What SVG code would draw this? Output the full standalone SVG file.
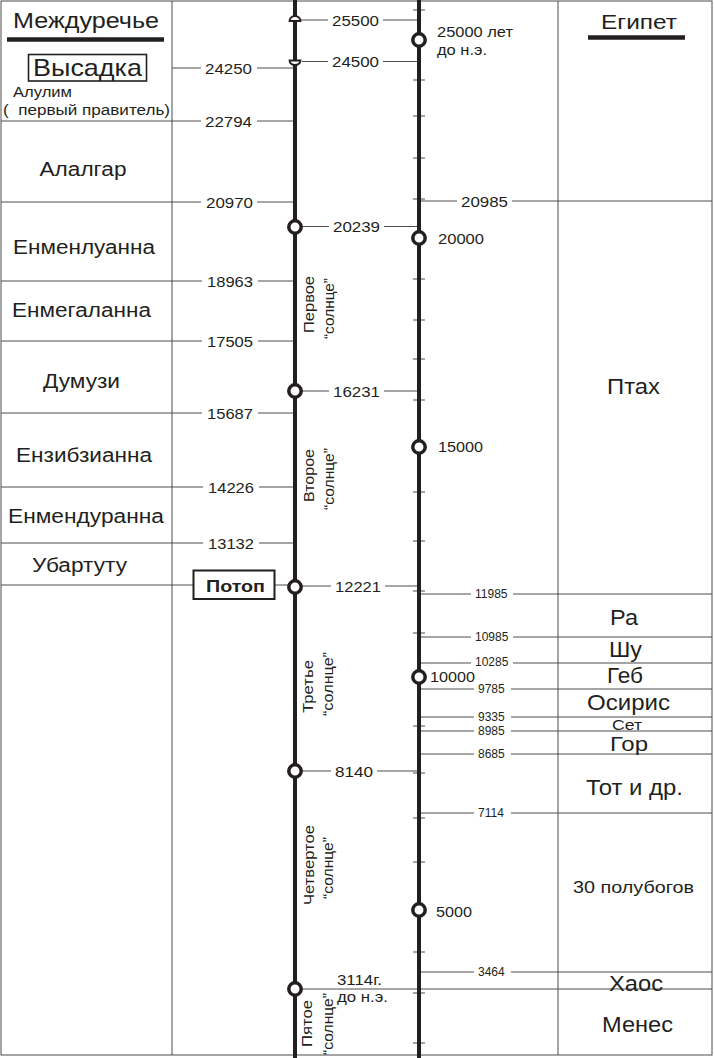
<svg xmlns="http://www.w3.org/2000/svg" width="714" height="1058" viewBox="0 0 714 1058">
<style>
.g{stroke:#4d4d4d;stroke-width:1;fill:none}
.tk{stroke:#4d4d4d;stroke-width:1.2;fill:none}
.ax{stroke:#231f20;stroke-width:4;fill:none}
.c{fill:#fff;stroke:#231f20;stroke-width:3.5}
.hc{fill:#fff;stroke:#231f20;stroke-width:1.8}
text{font-family:"Liberation Sans",Arial,sans-serif;fill:#231f20}
.n{font-size:15px}
.s{font-size:12px}
.big{font-size:20px}
.eg{font-size:22px}
.rot{font-size:15px;text-anchor:middle}
.b{font-size:16px;font-weight:bold}
</style>
<rect x="0" y="0" width="714" height="1058" fill="#fff"/>
<g id="frame">
<rect class="g" x="1" y="1" width="711" height="1054"/>
<line class="g" x1="172" y1="1" x2="172" y2="1055"/>
<line class="g" x1="558" y1="1" x2="558" y2="1055"/>
</g>
<g id="connectors">
<path class="g" d="M172 68H201M257 68H295"/>
<path class="g" d="M1 121H201M257 121H295"/>
<path class="g" d="M1 202H201M257 202H295"/>
<path class="g" d="M1 281H202M258 281H295"/>
<path class="g" d="M1 341H202M258 341H295"/>
<path class="g" d="M1 413H202M258 413H295"/>
<path class="g" d="M1 487H203M259 487H295"/>
<path class="g" d="M1 543H203M259 543H295"/>
<path class="g" d="M1 585H193M275 585H291"/>
<path class="g" d="M301 20H328M383 20H419"/>
<path class="g" d="M302 61.5H328M383 61.5H419"/>
<path class="g" d="M301 226.5H329M384 226.5H419"/>
<path class="g" d="M301 391H329M384 391H419"/>
<path class="g" d="M301 586H331M385 586H419"/>
<path class="g" d="M301 771H331M377 771H419"/>
<path class="g" d="M419 201H457M512 201H712"/>
<path class="g" d="M419 594H471M513 594H712"/>
<path class="g" d="M419 637H471M513 637H712"/>
<path class="g" d="M419 663H471M513 663H712"/>
<path class="g" d="M419 689H474M511 689H712"/>
<path class="g" d="M419 717H474M511 717H712"/>
<path class="g" d="M419 731H474M511 731H712"/>
<path class="g" d="M419 754H474M511 754H712"/>
<path class="g" d="M419 813H474M511 813H712"/>
<path class="g" d="M419 972H474M511 972H712"/>
<path class="g" d="M302 989H712"/>
<path class="tk" d="M413 10H425M413 80H425M413 116H425M413 158H425M413 199H425M413 279H425M413 320H425M413 359H425M413 400H425M413 492H425M413 541H425M413 591H425M413 633H425M413 726H425M413 773H425M413 818H425M413 862H425M413 952H425M413 993H425M413 1043H425"/>
</g>
<g id="axes">
<line class="ax" x1="295" y1="0" x2="295" y2="1058"/>
<line class="ax" x1="419" y1="0" x2="419" y2="1058"/>
</g>
<g id="markers-left-axis">
<path class="hc" d="M289.5 21A5.5 5 0 0 1 300.5 21Z"/>
<path class="hc" d="M289.5 60.5A5.5 4.5 0 0 0 300.5 60.5Z"/>
<circle class="c" cx="295" cy="227" r="6.2"/>
<circle class="c" cx="295" cy="391" r="6.2"/>
<circle class="c" cx="295" cy="587" r="6.2"/>
<circle class="c" cx="295" cy="771" r="6.2"/>
<circle class="c" cx="295" cy="989" r="6.2"/>
</g>
<g id="markers-right-axis">
<circle class="c" cx="419" cy="40" r="6.2"/>
<circle class="c" cx="419" cy="238" r="6.2"/>
<circle class="c" cx="419" cy="447" r="6.2"/>
<circle class="c" cx="419" cy="677" r="6.2"/>
<circle class="c" cx="419" cy="910" r="6.2"/>
</g>
<g id="mesopotamia">
<text x="13" y="28" font-size="22" textLength="146" lengthAdjust="spacingAndGlyphs">Междуречье</text>
<line x1="7" y1="39.5" x2="164" y2="39.5" stroke="#231f20" stroke-width="4.5"/>
<g id="vysadka">
<rect x="28.5" y="54.5" width="118" height="26.5" fill="none" stroke="#231f20" stroke-width="1.6"/>
<text x="33" y="76" font-size="24" textLength="109" lengthAdjust="spacingAndGlyphs">Высадка</text>
</g>
<text x="13" y="97" font-size="14" textLength="59" lengthAdjust="spacingAndGlyphs">Алулим</text>
<text x="3" y="115" font-size="14" textLength="167" lengthAdjust="spacingAndGlyphs">(&#160; первый правитель)</text>
<text class="big" x="39.5" y="176" textLength="87" lengthAdjust="spacingAndGlyphs">Алалгар</text>
<text class="big" x="13" y="254" textLength="142" lengthAdjust="spacingAndGlyphs">Енменлуанна</text>
<text class="big" x="12" y="317" textLength="139" lengthAdjust="spacingAndGlyphs">Енмегаланна</text>
<text class="big" x="43" y="388" textLength="77" lengthAdjust="spacingAndGlyphs">Думузи</text>
<text class="big" x="16" y="462" textLength="136" lengthAdjust="spacingAndGlyphs">Ензибзианна</text>
<text class="big" x="8" y="523" textLength="156" lengthAdjust="spacingAndGlyphs">Енмендуранна</text>
<text class="big" x="32" y="572" textLength="95" lengthAdjust="spacingAndGlyphs">Убартуту</text>
<g id="potop">
<rect x="193.5" y="570.5" width="81" height="28.5" fill="#fff" stroke="#231f20" stroke-width="2"/>
<text class="b" x="206" y="592" textLength="59" lengthAdjust="spacingAndGlyphs">Потоп</text>
</g>
</g>
<g id="left-dates">
<text class="n" x="205" y="73.5" textLength="47" lengthAdjust="spacingAndGlyphs">24250</text>
<text class="n" x="205" y="126.5" textLength="47" lengthAdjust="spacingAndGlyphs">22794</text>
<text class="n" x="206" y="207.5" textLength="47" lengthAdjust="spacingAndGlyphs">20970</text>
<text class="n" x="207" y="286.5" textLength="46" lengthAdjust="spacingAndGlyphs">18963</text>
<text class="n" x="207" y="346.5" textLength="46" lengthAdjust="spacingAndGlyphs">17505</text>
<text class="n" x="207" y="418.5" textLength="46" lengthAdjust="spacingAndGlyphs">15687</text>
<text class="n" x="208" y="492.5" textLength="46" lengthAdjust="spacingAndGlyphs">14226</text>
<text class="n" x="208" y="548.5" textLength="46" lengthAdjust="spacingAndGlyphs">13132</text>
</g>
<g id="mid-dates">
<text class="n" x="332" y="25.5" textLength="47" lengthAdjust="spacingAndGlyphs">25500</text>
<text class="n" x="332" y="67" textLength="47" lengthAdjust="spacingAndGlyphs">24500</text>
<text class="n" x="333" y="232" textLength="47" lengthAdjust="spacingAndGlyphs">20239</text>
<text class="n" x="333" y="396.5" textLength="47" lengthAdjust="spacingAndGlyphs">16231</text>
<text class="n" x="335" y="591.5" textLength="46" lengthAdjust="spacingAndGlyphs">12221</text>
<text class="n" x="335" y="776.5" textLength="38" lengthAdjust="spacingAndGlyphs">8140</text>
<text class="n" x="337" y="985" textLength="45" lengthAdjust="spacingAndGlyphs">3114г.</text>
<text class="n" x="337" y="1002" textLength="51" lengthAdjust="spacingAndGlyphs">до н.э.</text>
</g>
<g id="suns">
<text class="rot" transform="translate(314 304.5) rotate(-90)" textLength="57" lengthAdjust="spacingAndGlyphs">Первое</text>
<text class="rot" transform="translate(334 308.5) rotate(-90)" textLength="61" lengthAdjust="spacingAndGlyphs">“солнце”</text>
<text class="rot" transform="translate(314 475.5) rotate(-90)" textLength="53" lengthAdjust="spacingAndGlyphs">Второе</text>
<text class="rot" transform="translate(334 479) rotate(-90)" textLength="62" lengthAdjust="spacingAndGlyphs">“солнце”</text>
<text class="rot" transform="translate(313 686.5) rotate(-90)" textLength="53" lengthAdjust="spacingAndGlyphs">Третье</text>
<text class="rot" transform="translate(333 684) rotate(-90)" textLength="64" lengthAdjust="spacingAndGlyphs">“солнце”</text>
<text class="rot" transform="translate(314 865) rotate(-90)" textLength="80" lengthAdjust="spacingAndGlyphs">Четвертое</text>
<text class="rot" transform="translate(333 868) rotate(-90)" textLength="62" lengthAdjust="spacingAndGlyphs">“солнце”</text>
<text class="rot" transform="translate(312 1023.5) rotate(-90)" textLength="47" lengthAdjust="spacingAndGlyphs">Пятое</text>
<text class="rot" transform="translate(333 1024) rotate(-90)" textLength="62" lengthAdjust="spacingAndGlyphs">“солнце”</text>
</g>
<g id="scale-labels">
<text class="n" x="437" y="37" textLength="76" lengthAdjust="spacingAndGlyphs">25000 лет</text>
<text class="n" x="437" y="55" textLength="50" lengthAdjust="spacingAndGlyphs">до н.э.</text>
<text class="n" x="438" y="243.5" textLength="46" lengthAdjust="spacingAndGlyphs">20000</text>
<text class="n" x="438" y="452" textLength="45" lengthAdjust="spacingAndGlyphs">15000</text>
<text class="n" x="430" y="682" textLength="45" lengthAdjust="spacingAndGlyphs">10000</text>
<text class="n" x="436" y="917" textLength="36" lengthAdjust="spacingAndGlyphs">5000</text>
</g>
<g id="right-dates">
<text class="n" x="461" y="206.5" textLength="47" lengthAdjust="spacingAndGlyphs">20985</text>
<text class="s" x="475" y="598">11985</text>
<text class="s" x="475" y="641">10985</text>
<text class="s" x="475" y="666">10285</text>
<text class="s" x="478" y="693">9785</text>
<text class="s" x="478" y="721">9335</text>
<text class="s" x="478" y="735">8985</text>
<text class="s" x="478" y="758">8685</text>
<text class="s" x="478" y="817">7114</text>
<text class="s" x="478" y="976">3464</text>
</g>
<g id="egypt">
<text x="601" y="29" font-size="20" textLength="76" lengthAdjust="spacingAndGlyphs">Египет</text>
<line x1="588" y1="37.5" x2="685" y2="37.5" stroke="#231f20" stroke-width="4.5"/>
<text class="eg" x="607" y="394" textLength="53" lengthAdjust="spacingAndGlyphs">Птах</text>
<text class="eg" x="610" y="625" textLength="28" lengthAdjust="spacingAndGlyphs">Ра</text>
<text class="eg" x="609" y="657" textLength="33" lengthAdjust="spacingAndGlyphs">Шу</text>
<text class="eg" x="607" y="683" textLength="36" lengthAdjust="spacingAndGlyphs">Геб</text>
<text class="eg" x="587" y="710" textLength="83" lengthAdjust="spacingAndGlyphs">Осирис</text>
<text x="612" y="730" font-size="14" textLength="30" lengthAdjust="spacingAndGlyphs">Сет</text>
<text x="610" y="751" font-size="21" textLength="38" lengthAdjust="spacingAndGlyphs">Гор</text>
<text class="eg" x="586" y="795" textLength="97" lengthAdjust="spacingAndGlyphs">Тот и др.</text>
<text x="573" y="893" font-size="17" textLength="121" lengthAdjust="spacingAndGlyphs">30 полубогов</text>
<text class="eg" x="609" y="991" textLength="54" lengthAdjust="spacingAndGlyphs">Хаос</text>
<text class="eg" x="602" y="1032" textLength="71" lengthAdjust="spacingAndGlyphs">Менес</text>
</g>
</svg>
